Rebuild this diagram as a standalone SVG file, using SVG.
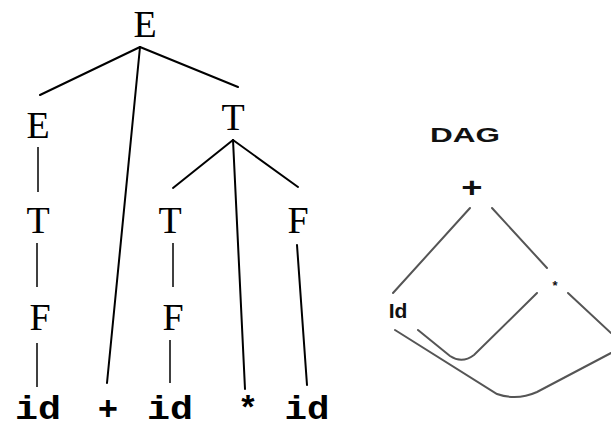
<svg xmlns="http://www.w3.org/2000/svg" width="611" height="430" viewBox="0 0 611 430">
<style>
.nt{font-family:"Liberation Serif","Times New Roman",serif;font-size:38px;fill:#000;text-anchor:middle}
.tk{font-family:"Liberation Mono","Courier New",monospace;font-weight:bold;font-size:34px;fill:#000;text-anchor:middle}
.e{stroke:#000;stroke-width:2;fill:none;stroke-linecap:round}
.v{stroke:#000;stroke-width:1.5;fill:none}
.d{stroke:#555;stroke-width:2;fill:none;stroke-linecap:round}
.ds{font-family:"Liberation Sans",Arial,sans-serif;font-weight:bold;fill:#111;text-anchor:middle}
</style>
<rect width="611" height="430" fill="#fff"/>
<g id="parse-tree">
  <g id="connectors">
    <line class="e" x1="140" y1="47" x2="40" y2="95"/>
    <line class="e" x1="140" y1="47" x2="238" y2="87"/>
    <line class="e" x1="140" y1="47" x2="107" y2="383"/>
    <line class="v" x1="38" y1="147" x2="38" y2="192"/>
    <line class="v" x1="37" y1="243" x2="37" y2="287"/>
    <line class="v" x1="37" y1="343" x2="37" y2="387"/>
    <line class="e" x1="233" y1="140" x2="173" y2="188"/>
    <line class="e" x1="233" y1="140" x2="298" y2="187"/>
    <line class="e" x1="233" y1="140" x2="245" y2="389"/>
    <line class="v" x1="173" y1="243" x2="173" y2="287"/>
    <line class="v" x1="170" y1="340" x2="170" y2="383"/>
    <line class="e" x1="297" y1="245" x2="307" y2="385"/>
  </g>
  <g id="n-E-root"><text class="nt" x="145" y="37">E</text></g>
  <g id="n-E-left"><text class="nt" x="38" y="138">E</text></g>
  <g id="n-T-left"><text class="nt" x="38" y="233">T</text></g>
  <g id="n-F-left"><text class="nt" x="40" y="330">F</text></g>
  <g id="n-T-right"><text class="nt" x="233" y="130">T</text></g>
  <g id="n-T-mid"><text class="nt" x="170" y="233">T</text></g>
  <g id="n-F-mid"><text class="nt" x="173" y="330">F</text></g>
  <g id="n-F-right"><text class="nt" x="298" y="233">F</text></g>
  <g id="n-id1"><text class="tk" x="38" y="419" textLength="46" lengthAdjust="spacingAndGlyphs">id</text></g>
  <g id="n-plus"><text class="tk" x="108" y="420">+</text></g>
  <g id="n-id2"><text class="tk" x="170" y="419" textLength="46" lengthAdjust="spacingAndGlyphs">id</text></g>
  <g id="n-star"><text class="tk" x="248" y="419" font-size="30">*</text></g>
  <g id="n-id3"><text class="tk" x="307" y="419" textLength="45" lengthAdjust="spacingAndGlyphs">id</text></g>
</g>
<g id="dag">
  <g id="dag-label"><text class="ds" x="465" y="142" font-size="20" textLength="70" lengthAdjust="spacingAndGlyphs">DAG</text></g>
  <g id="dag-connectors">
    <path class="d" d="M470,208 L393,293"/>
    <path class="d" d="M492,208 L547,268"/>
    <path class="d" d="M568,293 L611,333"/>
    <path class="d" d="M418,330 L450,356 Q462,364 474,355 L537,293"/>
    <path class="d" d="M395,330 L497,394 Q517,401 537,392 L611,353"/>
  </g>
  <g id="dag-plus"><text class="ds" x="472" y="197" font-size="28" transform="translate(472 0) scale(1.3 1) translate(-472 0)">+</text></g>
  <g id="dag-star"><text class="ds" x="555" y="290" font-size="13">*</text></g>
  <g id="dag-id"><text class="ds" x="398" y="318" font-size="21">Id</text></g>
</g>
</svg>
